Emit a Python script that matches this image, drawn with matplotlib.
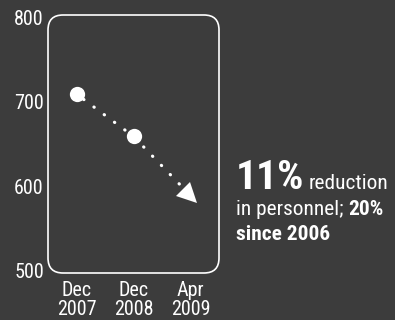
import numpy as np
from matplotlib import pyplot as plt
from matplotlib import font_manager
from matplotlib.markers import MarkerStyle
from matplotlib.patches import FancyBboxPatch
from matplotlib.transforms import Affine2D

names = {f.name for f in font_manager.fontManager.ttflist}
cands = [n for n in sorted(names) if 'Condensed' in n or 'Narrow' in n]
pref = ['Liberation Sans Narrow', 'Roboto Condensed', 'Open Sans Condensed',
        'Noto Sans Condensed', 'DejaVu Sans Condensed']
FONT = next((n for n in pref if n in names), cands[0] if cands else 'Roboto')
if FONT not in names:
    FONT = 'DejaVu Sans'
plt.rcParams['font.family'] = [FONT, 'DejaVu Sans']

BG = '#3c3c3c'
FG = 'white'

# data
x_labels = ['Dec\n2007', 'Dec\n2008', 'Apr\n2009']
actual = [709, 659]          # Dec 2007, Dec 2008
projected = 589              # Apr 2009
y_ticks = [500, 600, 700, 800]

fig = plt.figure(figsize=(3.95, 3.2), dpi=100, facecolor=BG)
ax = fig.add_axes([48 / 395, 1 - 273 / 320, 171 / 395, 258 / 320])
ax.set_facecolor(BG)
ax.set_xlim(-0.5, 2.5)
ax.set_ylim(497.5, 802.5)
for s in ax.spines.values():
    s.set_visible(False)

ax.set_xticks(range(len(x_labels)))
ax.set_xticklabels(x_labels, color=FG, fontsize=14.5, linespacing=0.95)
ax.set_yticks(y_ticks)
ax.set_yticklabels([str(v) for v in y_ticks], color=FG, fontsize=14.5)
ax.tick_params(length=0, pad=3)
ax.tick_params(axis='x', pad=6)

# rounded frame
frame = FancyBboxPatch((0.48, 0.47), 1.71, 2.58, boxstyle='round,pad=0,rounding_size=0.15',
                       transform=fig.dpi_scale_trans, facecolor='none', edgecolor=FG,
                       linewidth=1.2, zorder=1)
fig.patches.append(frame)

# dotted trend and points
xs = [0, 1, 2]
ys = actual + [projected]
ax.plot(xs, ys, color=FG, lw=2.3, linestyle=(1.2, (0.1, 3.9)),
        dash_capstyle='round', zorder=2)
ax.plot(xs[:2], actual, 'o', color=FG, markersize=11, markeredgewidth=0, zorder=3)

# arrow head pointing along the trend
p1 = ax.transData.transform((xs[1], ys[1]))
p2 = ax.transData.transform((xs[2], ys[2]))
ang = np.degrees(np.arctan2(p2[1] - p1[1], p2[0] - p1[0]))
tri = MarkerStyle('^', transform=Affine2D().rotate_deg(ang - 90))
ax.plot([xs[2]], [ys[2]], marker=tri, color=FG, markersize=14, markeredgewidth=0, zorder=3)

# annotation text made of pieces, sized to the widths in the reference
fig.canvas.draw()
r = fig.canvas.get_renderer()

def put(x_px, y_px, s, size, bold):
    return fig.text(x_px / 395, 1 - y_px / 320, s, color=FG, fontsize=size,
                    fontweight='bold' if bold else 'normal', va='baseline', ha='left')

def width(s, size, bold):
    t = put(0, 0, s, size, bold)
    w = t.get_window_extent(r).width
    t.remove()
    return w

big = 10 * 69 / width('11%', 10, True)
small = 10 * 147 / (width('in personnel; ', 10, False) + width('20%', 10, True))

x = put(236, 189, '11%', big, True).get_window_extent(r).x1
put(x + 4, 189, 'reduction', small, False)
x = put(236, 215, 'in personnel; ', small, False).get_window_extent(r).x1
put(x, 215, '20%', small, True)
put(236, 240, 'since 2006', small, True)

fig.savefig('out.png', dpi=100, facecolor=BG)
